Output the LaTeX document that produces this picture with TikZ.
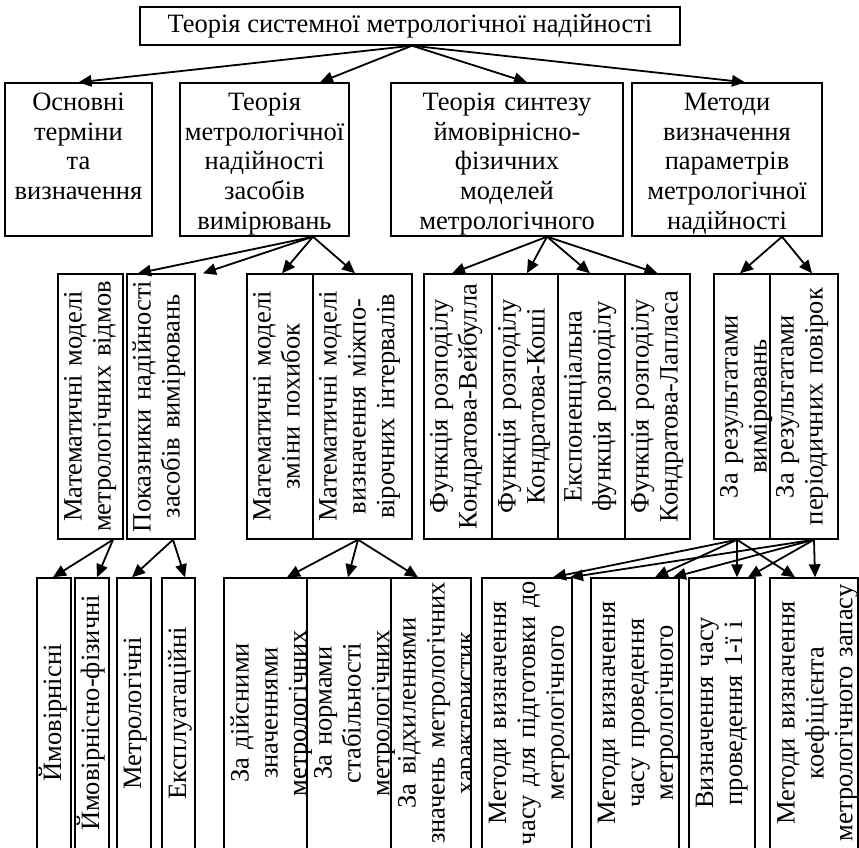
\documentclass[tikz,border=0pt]{standalone}
\usepackage{fontspec}
\setmainfont{Liberation Serif}
\usetikzlibrary{arrows.meta}
\newcommand\hs{\rule{0pt}{23pt}}
\tikzset{
  box/.style={draw, line width=1.4pt, inner sep=0pt},
  arr/.style={line width=1.8pt, -{Triangle[length=13pt,width=11.5pt]}},
  ht/.style={font=\fontsize{26.5}{29.8}\selectfont, align=center, anchor=north, inner sep=0pt},
  vt/.style={font=\fontsize{26.5}{28.8}\selectfont, align=center, anchor=north, inner sep=0pt, rotate=90, text width=264pt},
  wt/.style={font=\fontsize{26.5}{28.8}\selectfont, align=center, anchor=north, inner sep=0pt, rotate=90, text width=268pt},
}
\begin{document}
\begin{tikzpicture}[x=1pt,y=-1pt]
\useasboundingbox (0,0) rectangle (859,848);
% top
\node[box, minimum width=540pt, minimum height=38pt, font=\fontsize{26.5}{29}\selectfont] (T) at (410,26) {Теорія системної метрологічної надійності};
% level 2
\node[box, minimum width=147pt, minimum height=153pt] (A) at (78.5,159.5) {};
\node[box, minimum width=169pt, minimum height=153pt] (B) at (264.5,159.5) {};
\node[box, minimum width=232pt, minimum height=153pt] (C) at (507,159.5) {};
\node[box, minimum width=190pt, minimum height=153pt] (D) at (727,159.5) {};
\node[ht, text width=145pt] (At) at (78.5,87) {\hs Основні\\терміни\\та\\визначення};
\node[ht, text width=167pt] (Bt) at (264.5,87) {\hs Теорія\\метрологічної\\надійності\\засобів\\вимірювань};
\node[ht, text width=230pt] (Ct) at (507,87) {\hs Теорія синтезу\\ймовірнісно-\\фізичних\\моделей\\метрологічного};
\node[ht, text width=188pt] (Dt) at (727,87) {\hs Методи\\визначення\\параметрів\\метрологічної\\надійності};
% level 3
\node[box, minimum width=65pt, minimum height=265pt] (M1) at (90.5,406.5) {};
\node[box, minimum width=68pt, minimum height=265pt] (M2) at (161,406.5) {};
\node[box, minimum width=66pt, minimum height=265pt] (M3) at (280,406.5) {};
\node[box, minimum width=99pt, minimum height=265pt] (M4) at (362.5,406.5) {};
\node[box, minimum width=68pt, minimum height=265pt] (F1) at (458,406.5) {};
\node[box, minimum width=66pt, minimum height=265pt] (F2) at (525,406.5) {};
\node[box, minimum width=67pt, minimum height=265pt] (F3) at (591.5,406.5) {};
\node[box, minimum width=65pt, minimum height=265pt] (F4) at (657.5,406.5) {};
\node[box, minimum width=56pt, minimum height=265pt] (R1) at (742,406.5) {};
\node[box, minimum width=68pt, minimum height=265pt] (R2) at (804,406.5) {};
\node[vt] (M1t) at (58.5,406.5) {\hs Математичні моделі\\метрологічних відмов};
\node[vt] (M2t) at (127.5,406.5) {\hs Показники надійності\\засобів вимірювань};
\node[vt] (M3t) at (247.5,406.5) {\hs Математичні моделі\\зміни похибок};
\node[vt] (M4t) at (313.5,406.5) {\hs Математичні моделі\\визначення міжпо-\\вірочних інтервалів};
\node[vt] (F1t) at (424.5,406.5) {\hs Функція розподілу\\Кондратова-Вейбулла};
\node[vt] (F2t) at (492.5,406.5) {\hs Функція розподілу\\Кондратова-Коші};
\node[vt] (F3t) at (558.5,406.5) {\hs Експоненціальна\\функція розподілу};
\node[vt] (F4t) at (625.5,406.5) {\hs Функція розподілу\\Кондратова-Лапласа};
\node[vt] (R1t) at (714.5,406.5) {\hs За результатами\\вимірювань};
\node[vt] (R2t) at (770.5,406.5) {\hs За результатами\\періодичних повірок};
% level 4
\node[box, minimum width=34pt, minimum height=280pt] (Y1) at (54,718) {};
\node[box, minimum width=34pt, minimum height=280pt] (Y2) at (92,718) {};
\node[box, minimum width=34pt, minimum height=280pt] (Y3) at (134,718) {};
\node[box, minimum width=33pt, minimum height=280pt] (Y4) at (178.5,718) {};
\node[box, minimum width=83pt, minimum height=280pt] (Z1) at (265.5,718) {};
\node[box, minimum width=84pt, minimum height=280pt] (Z2) at (349,718) {};
\node[box, minimum width=80pt, minimum height=280pt] (Z3) at (431,718) {};
\node[box, minimum width=90pt, minimum height=280pt] (K1) at (527,718) {};
\node[box, minimum width=88pt, minimum height=280pt] (K2) at (635,718) {};
\node[box, minimum width=66pt, minimum height=280pt] (K3) at (722,718) {};
\node[box, minimum width=88pt, minimum height=280pt] (K4) at (814,718) {};
\node[wt] (Y1t) at (38,713) {\hs Ймовірнісні};
\node[wt] (Y2t) at (76,713) {\hs Ймовірнісно-фізичні};
\node[wt] (Y3t) at (118,713) {\hs Метрологічні};
\node[wt] (Y4t) at (163,713) {\hs Експлуатаційні};
\node[wt] (Z1t) at (225.5,713) {\hs За дійсними\\значеннями\\метрологічних};
\node[wt] (Z2t) at (308.5,713) {\hs За нормами\\стабільності\\метрологічних};
\begin{scope}
\clip (Z3.north west) rectangle (Z3.south east);
\node[wt] (Z3t) at (392.5,713) {\hs За відхиленнями\\значень метрологічних\\характеристик};
\end{scope}
\node[wt] (K1t) at (483,713) {\hs Методи визначення\\часу для підготовки до\\метрологічного};
\node[wt] (K2t) at (592,713) {\hs Методи визначення\\часу проведення\\метрологічного};
\node[wt] (K3t) at (690,713) {\hs Визначення часу\\проведення 1-ї і};
\node[wt] (K4t) at (771.5,713) {\hs Методи визначення\\коефіцієнта\\метрологічного запасу};
% arrows level 1 -> 2
\draw[arr] ([xshift=2pt]T.south) -- (A.north);
\draw[arr] ([xshift=2pt]T.south) -- ([xshift=55.5pt]B.north);
\draw[arr] ([xshift=2pt]T.south) -- ([xshift=20pt]C.north);
\draw[arr] ([xshift=2pt]T.south) -- ([xshift=18pt]D.north);
% level 2 -> 3
\draw[arr] ([xshift=48.5pt]B.south) -- ([xshift=-23pt]M2.north);
\draw[arr] ([xshift=48.5pt]B.south) -- ([xshift=42pt]M2.north);
\draw[arr] ([xshift=48.5pt]B.south) -- ([xshift=2pt]M3.north);
\draw[arr] ([xshift=48.5pt]B.south) -- ([xshift=-7.5pt]M4.north);
\draw[arr] ([xshift=40pt]C.south) -- ([xshift=-6pt]F1.north);
\draw[arr] ([xshift=40pt]C.south) -- ([xshift=2pt]F2.north);
\draw[arr] ([xshift=40pt]C.south) -- ([xshift=-1.5pt]F3.north);
\draw[arr] ([xshift=40pt]C.south) -- (F4.north);
\draw[arr] ([xshift=55pt]D.south) -- ([xshift=-2pt]R1.north);
\draw[arr] ([xshift=55pt]D.south) -- ([xshift=8pt]R2.north);
% level 3 -> 4
\draw[arr] ([xshift=22.5pt]M1.south) -- ([xshift=-1pt]Y1.north);
\draw[arr] ([xshift=22.5pt]M1.south) -- ([xshift=5pt]Y2.north);
\draw[arr] ([xshift=12pt]M2.south) -- ([xshift=-2pt]Y3.north);
\draw[arr] ([xshift=12pt]M2.south) -- ([xshift=6.5pt]Y4.north);
\draw[arr] ([xshift=-4.5pt]M4.south) -- ([xshift=21.5pt]Z1.north);
\draw[arr] ([xshift=-4.5pt]M4.south) -- ([xshift=-1pt]Z2.north);
\draw[arr] ([xshift=-4.5pt]M4.south) -- ([xshift=-13pt]Z3.north);
\draw[arr] ([xshift=-5pt]R1.south) -- ([xshift=26pt]K1.north);
\draw[arr] ([xshift=-5pt]R1.south) -- ([xshift=20pt]K2.north);
\draw[arr] ([xshift=-5pt]R1.south) -- ([xshift=15pt]K3.north);
\draw[arr] ([xshift=-5pt]R1.south) -- ([xshift=-19pt]K4.north);
\draw[arr] ([xshift=10pt]R2.south) -- ([xshift=43pt]K1.north);
\draw[arr] ([xshift=10pt]R2.south) -- ([xshift=38pt]K2.north);
\draw[arr] ([xshift=10pt]R2.south) -- ([xshift=26pt]K3.north);
\draw[arr] ([xshift=10pt]R2.south) -- ([xshift=1pt]K4.north);
\end{tikzpicture}
\end{document}
